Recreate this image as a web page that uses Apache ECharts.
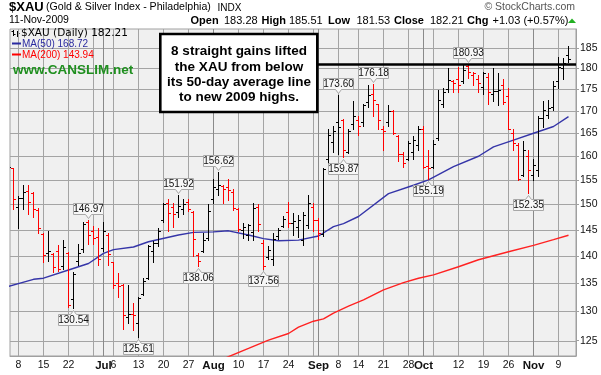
<!DOCTYPE html>
<html>
<head>
<meta charset="utf-8">
<script src="https://cdn.jsdelivr.net/npm/echarts@6.0.0/dist/echarts.min.js"></script>
<style>
html,body{margin:0;padding:0;background:#ffffff;}
#chart{width:601px;height:375px;}
</style>
</head>
<body>
<div id="chart"></div>
<script>
// ---------------- DATA ----------------
const dates = [
'06-04','06-05','06-08','06-09','06-10','06-11','06-12','06-15','06-16','06-17','06-18','06-19','06-22','06-23','06-24','06-25','06-26','06-29','06-30',
'07-01','07-02','07-06','07-07','07-08','07-09','07-10','07-13','07-14','07-15','07-16','07-17','07-20','07-21','07-22','07-23','07-24','07-27','07-28','07-29','07-30','07-31',
'08-03','08-04','08-05','08-06','08-07','08-10','08-11','08-12','08-13','08-14','08-17','08-18','08-19','08-20','08-21','08-24','08-25','08-26','08-27','08-28','08-31',
'09-01','09-02','09-03','09-04','09-08','09-09','09-10','09-11','09-14','09-15','09-16','09-17','09-18','09-21','09-22','09-23','09-24','09-25','09-28','09-29','09-30',
'10-01','10-02','10-05','10-06','10-07','10-08','10-09','10-12','10-13','10-14','10-15','10-16','10-19','10-20','10-21','10-22','10-23','10-26','10-27','10-28','10-29','10-30',
'11-02','11-03','11-04','11-05','11-06','11-09','11-10','11-11'];

const opens = [
155.0,157.4,149.5,151.3,152.8,152.3,148.8,144.2,140.5,140.3,141.0,138.2,140.6,132.2,139.0,141.4,146.5,144.8,143.6,
141.5,144.0,138.8,135.0,134.7,129.0,129.6,128.0,133.0,136.0,141.0,142.5,147.0,150.3,149.5,148.5,149.0,150.4,148.5,140.2,141.0,143.5,
151.0,153.2,153.8,153.5,152.5,149.0,145.0,144.0,144.5,149.5,142.5,139.8,139.5,143.8,145.8,148.5,146.3,145.5,143.0,146.0,149.5,
147.0,144.2,159.5,163.0,167.5,168.0,161.0,167.0,168.0,167.5,172.0,174.0,171.5,166.0,167.5,170.0,164.5,160.5,159.5,161.0,162.5,
166.0,158.0,157.8,164.0,171.5,175.0,177.0,177.5,177.0,180.5,178.5,177.5,175.5,178.0,174.0,174.5,176.0,173.5,165.0,162.5,156.0,160.0,
156.0,157.0,168.5,169.0,171.0,177.0,180.0,183.28];

const highs = [
158.3,157.6,151.7,154.0,154.0,152.6,149.2,144.4,144.7,140.5,142.0,143.0,140.8,137.1,142.3,146.6,146.97,145.8,145.3,
146.6,144.3,138.9,136.8,134.9,134.6,131.4,132.6,135.9,142.0,142.8,145.4,150.3,151.1,150.2,151.92,151.0,151.1,148.7,140.5,144.3,150.0,
155.3,156.62,154.0,155.3,153.2,149.3,146.3,146.1,150.2,150.0,143.0,141.8,144.3,145.4,147.7,150.5,148.3,147.9,148.4,152.0,150.2,
147.3,157.5,166.0,166.6,173.60,168.2,166.0,172.3,168.8,171.6,175.9,176.18,171.6,166.5,171.3,170.2,164.6,161.0,163.3,164.5,166.6,
166.6,161.3,163.5,174.8,175.2,180.1,177.2,180.3,180.7,180.93,179.2,178.3,179.2,178.8,180.1,178.8,177.5,175.2,166.0,162.9,163.3,161.3,
159.5,168.8,172.3,172.5,176.9,182.8,182.4,185.51];

const lows = [
154.2,149.0,145.3,149.0,148.0,147.5,144.3,138.9,139.0,137.1,137.3,137.6,130.8,130.54,138.3,140.8,142.3,142.3,138.3,
141.0,138.3,134.1,132.6,127.0,128.0,126.8,125.61,132.9,135.7,138.9,141.8,146.6,144.7,145.6,147.6,148.0,148.6,140.0,138.06,140.8,143.0,
150.2,152.0,150.3,150.9,148.9,144.7,143.5,143.0,143.0,144.7,137.56,139.5,138.3,143.3,145.5,145.6,144.0,143.6,142.0,145.3,144.7,
143.3,143.8,158.6,161.0,160.4,159.87,160.7,166.0,164.7,166.6,170.9,168.8,166.0,161.3,166.6,164.9,159.0,157.8,159.2,159.5,161.3,
157.4,155.19,157.4,163.5,170.8,174.3,174.3,174.3,176.4,177.6,175.9,174.3,173.9,171.6,172.3,171.3,171.6,165.9,161.3,155.0,155.9,152.35,
155.0,155.9,166.3,168.4,170.3,175.2,177.5,181.53];

const closes = [
157.8,151.0,151.3,152.5,150.4,149.1,145.3,140.1,140.9,138.0,137.6,141.7,131.1,136.6,140.5,146.1,143.9,143.5,139.5,
144.7,140.3,134.7,134.4,129.3,129.6,129.4,132.3,135.4,141.8,142.5,144.7,150.0,148.3,148.0,149.7,150.0,149.0,143.3,139.0,143.1,148.7,
153.6,154.0,153.2,152.9,149.3,145.2,145.6,145.9,149.2,146.1,138.2,141.1,143.2,145.0,147.2,146.4,146.8,147.0,147.9,150.3,147.0,
144.3,157.2,164.7,165.5,166.3,161.3,165.6,168.9,166.6,171.3,173.6,172.5,168.0,165.5,170.0,165.1,160.4,158.6,162.8,163.5,165.9,
157.8,157.4,162.7,172.5,174.3,177.2,176.4,176.0,179.6,179.2,178.8,176.4,178.8,174.3,174.6,174.9,172.0,166.0,162.9,155.3,161.3,157.1,
158.2,168.4,170.3,170.7,175.8,180.3,181.18,182.21];

const ma50Dates  = ['06-04','06-11','06-15','06-22','06-26','07-01','07-06','07-10','07-15','07-23','07-28','08-03','08-06','08-12','08-17','08-20','08-26','09-01','09-04','09-09','09-14','09-22','09-29','10-02','10-09','10-16','10-21','10-27','11-02','11-06','11-11'];
const ma50Values = [134.4,135.7,135.9,137.4,138.6,140.5,141.2,141.7,142.7,144.0,144.5,144.6,144.8,144.0,143.3,142.9,143.0,143.8,145.6,146.2,147.6,152.2,153.9,155.0,157.8,160.0,162.0,163.5,165.0,166.5,168.72];

const ma200Dates  = ['08-04','08-06','08-12','08-18','08-24','08-26','08-31','09-02','09-04','09-10','09-15','09-21','09-25','09-30','10-05','10-12','10-16','10-26','11-02','11-06','11-11'];
const ma200Values = [121.6,122.35,123.7,125.1,126.2,127.3,128.3,128.7,129.7,130.9,132.0,133.8,135.1,135.9,136.5,138.0,139.3,140.8,142.0,143.1,143.94];

const yTicks = [125,130,135,140,145,150,155,160,165,170,175,180,185];
const xLabelDates = ['06-08','06-15','06-22','07-01','07-06','07-13','07-20','07-27','08-03','08-10','08-17','08-24','09-01','09-08','09-14','09-21','09-28','10-01','10-12','10-19','10-26','11-02','11-09'];
const xLabelTexts = ['8','15','22','Jul','6','13','20','27','Aug','10','17','24','Sep','8','14','21','28','Oct','12','19','26','Nov','9'];
const weekDates  = ['06-08','06-15','06-22','06-29','07-06','07-13','07-20','07-27','08-03','08-10','08-17','08-24','08-31','09-08','09-14','09-21','09-28','10-05','10-12','10-19','10-26','11-02','11-09'];
const monthDates = ['07-01','08-03','09-01','10-01','11-02'];

const calloutDates  = ['06-26','06-23','07-13','07-23','07-29','08-04','08-17','09-08','09-09','09-17','10-02','10-14','10-30'];
const calloutValues = [146.97,130.54,125.61,151.92,138.06,156.62,137.56,173.60,159.87,176.18,155.19,180.93,152.35];
const calloutKinds  = ['high','low','low','high','low','high','low','high','low','high','low','high','low'];

const resistanceLevel = 180.93;
const annotationLines = ['8 straight gains lifted','the XAU from below','its 50-day average line','to new 2009 highs.'];
const ma50Label = 168.72, ma200Label = 143.94;

// ---------------- BUILD ----------------
const L = Math.log;
const idx = d => dates.indexOf(d);
const kMin = 0.3, kMax = 113.5;
const yMin = L(122.46), yMax = L(189.71);

const ohlcData = dates.map((d, k) => [k, L(opens[k]), L(highs[k]), L(lows[k]), L(closes[k]),
  (k > 0 && closes[k] < closes[k - 1]) ? 1 : 0]);
const ma50Data = ma50Dates.map((d, j) => [idx(d), L(ma50Values[j])]);
const ma200Data = ma200Dates.map((d, j) => [idx(d), L(ma200Values[j])]);
const calloutData = calloutDates.map((d, j) => [idx(d), L(calloutValues[j]), calloutKinds[j] === 'high' ? 1 : 0]);

const monthIdx = monthDates.map(idx);
const weekIdx = weekDates.map(idx).filter(k => monthIdx.indexOf(k) < 0);
const yTickLn = yTicks.map(L);

const xLabelIdx = xLabelDates.map(idx);
const FONT = '"Liberation Sans", Arial, sans-serif';

const lastC = closes[closes.length - 1], prevC = closes[closes.length - 2];
const chg = lastC - prevC;
const chgPct = chg / prevC * 100;
const nO = opens[opens.length - 1], nH = highs[highs.length - 1], nL = lows[lows.length - 1];

function txt(x, y, text, font, fill, align) {
  return { type: 'text', x: x, y: y, z: 100, silent: true,
    style: { text: text, font: font, fill: fill || '#000', align: align || 'left', verticalAlign: 'middle' } };
}

const graphics = [
  txt(9, 7, '$XAU', 'bold 13px ' + FONT, '#000'),
  txt(46, 7.5, '(Gold & Silver Index - Philadelphia)', '10.6px ' + FONT, '#000'),
  txt(217.5, 8, 'INDX', '10px ' + FONT, '#000'),
  txt(575, 7, '\u00a9 StockCharts.com', '10.5px ' + FONT, '#555', 'right'),
  txt(9, 20.5, '11-Nov-2009', '10.5px ' + FONT, '#000'),
  txt(190.5, 20.5, 'Open', 'bold 11px ' + FONT),
  txt(224, 20.5, nO.toFixed(2), '11px ' + FONT),
  txt(261.5, 20.5, 'High', 'bold 11px ' + FONT),
  txt(289, 20.5, nH.toFixed(2), '11px ' + FONT),
  txt(328, 20.5, 'Low', 'bold 11px ' + FONT),
  txt(356.5, 20.5, nL.toFixed(2), '11px ' + FONT),
  txt(394, 20.5, 'Close', 'bold 11px ' + FONT),
  txt(430, 20.5, lastC.toFixed(2), '11px ' + FONT),
  txt(467, 20.5, 'Chg', 'bold 11px ' + FONT),
  txt(492.5, 20.5, (chg >= 0 ? '+' : '') + chg.toFixed(2) + ' (' + (chgPct >= 0 ? '+' : '') + chgPct.toFixed(2) + '%)', '11px ' + FONT),
  { type: 'polygon', z: 100, silent: true, shape: { points: [[568, 23], [576, 23], [572, 18.5]] }, style: { fill: '#22b022' } },
  // legend inside plot
  { type: 'group', z: 100, silent: true, children: [
    { type: 'line', shape: { x1: 13.5, y1: 30, x2: 13.5, y2: 36 }, style: { stroke: '#000', lineWidth: 1 } },
    { type: 'line', shape: { x1: 11.5, y1: 31.5, x2: 13.5, y2: 31.5 }, style: { stroke: '#000', lineWidth: 1 } },
    { type: 'line', shape: { x1: 13.5, y1: 34.5, x2: 15.5, y2: 34.5 }, style: { stroke: '#000', lineWidth: 1 } },
    { type: 'line', shape: { x1: 17.5, y1: 31, x2: 17.5, y2: 37 }, style: { stroke: '#000', lineWidth: 1 } },
    { type: 'line', shape: { x1: 17.5, y1: 33.5, x2: 19.5, y2: 33.5 }, style: { stroke: '#000', lineWidth: 1 } }
  ]},
  txt(21, 33.5, '$XAU (Daily) ' + lastC.toFixed(2), '10.5px "DejaVu Sans", Verdana, sans-serif', '#000'),
  { type: 'line', z: 100, silent: true, shape: { x1: 12, y1: 43.5, x2: 21, y2: 43.5 }, style: { stroke: '#2a2aa0', lineWidth: 2 } },
  txt(22, 44, 'MA(50) ' + ma50Label.toFixed(2), '10px ' + FONT, '#2a2aa0'),
  { type: 'line', z: 100, silent: true, shape: { x1: 12, y1: 54.5, x2: 21, y2: 54.5 }, style: { stroke: '#ff0000', lineWidth: 2 } },
  txt(22, 55, 'MA(200) ' + ma200Label.toFixed(2), '10px ' + FONT, '#ff0000'),
  txt(13, 70.5, 'www.CANSLIM.net', 'bold 13.5px ' + FONT, '#1f8f1f'),
  // annotation box
  { type: 'rect', z: 100, silent: true, shape: { x: 160.3, y: 34, width: 157, height: 78 }, style: { fill: '#ffffff', stroke: '#000', lineWidth: 2.6 } }
];
annotationLines.forEach((t, j) => graphics.push(txt(239, 51.5 + j * 15.3, t, 'bold 13.5px ' + FONT, '#000', 'center')));

// One custom series renders the whole background grid as a single element group
function renderGridAll(params, api) {
  if (params.dataIndex !== 0) return null;
  const cs = params.coordSys;
  const kids = [];
  weekIdx.forEach(k => {
    const x = api.coord([k, yMin])[0];
    kids.push({ type: 'rect', shape: { x: x - 0.5, y: cs.y, width: 1, height: cs.height }, style: { fill: '#a4a4a4' } });
  });
  yTickLn.forEach(v => {
    const y = Math.round(api.coord([kMin, v])[1]);
    kids.push({ type: 'rect', shape: { x: cs.x, y: y, width: cs.width, height: 1 }, style: { fill: '#a4a4a4' } });
  });
  monthIdx.forEach(k => {
    const x = api.coord([k, yMin])[0];
    kids.push({ type: 'rect', shape: { x: x - 0.5, y: cs.y, width: 1, height: cs.height }, style: { fill: '#8a8a8a' } });
  });
  return { type: 'group', children: kids };
}

function renderOHLC(params, api) {
  const k = api.value(0);
  const o = api.coord([k, api.value(1)]);
  const h = api.coord([k, api.value(2)]);
  const l = api.coord([k, api.value(3)]);
  const c = api.coord([k, api.value(4)]);
  const x = o[0];
  const col = api.value(5) ? '#ff0000' : '#000000';
  const oy = Math.round(o[1]) + 0.5, cy = Math.round(c[1]) + 0.5;
  return { type: 'group', children: [
    { type: 'line', shape: { x1: x, y1: Math.round(h[1]), x2: x, y2: Math.round(l[1]) + 1 }, style: { stroke: col, lineWidth: 1 } },
    { type: 'line', shape: { x1: x - 2.5, y1: oy, x2: x, y2: oy }, style: { stroke: col, lineWidth: 1 } },
    { type: 'line', shape: { x1: x, y1: cy, x2: x + 2.5, y2: cy }, style: { stroke: col, lineWidth: 1 } }
  ]};
}

function renderCallout(params, api) {
  const p = api.coord([api.value(0), api.value(1)]);
  const isHigh = api.value(2) === 1;
  const text = calloutValues[params.dataIndex].toFixed(2);
  const cx = p[0];
  const w = 30, h = 11, gap = 6;
  let top, bottom, pts;
  if (isHigh) {
    bottom = Math.round(p[1]) - gap + 0.5; top = bottom - h;
    pts = [[cx - w / 2, top], [cx + w / 2, top], [cx + w / 2, bottom], [cx + 3, bottom], [cx, bottom + 4], [cx - 3, bottom], [cx - w / 2, bottom]];
  } else {
    top = Math.round(p[1]) + gap + 0.5; bottom = top + h;
    pts = [[cx - w / 2, top], [cx - 3, top], [cx, top - 4], [cx + 3, top], [cx + w / 2, top], [cx + w / 2, bottom], [cx - w / 2, bottom]];
  }
  return { type: 'group', children: [
    { type: 'polygon', shape: { points: pts }, style: { fill: '#f7f7f7', stroke: '#a8a8a8', lineWidth: 1 } },
    { type: 'text', x: cx, y: (top + bottom) / 2 + 0.5, style: { text: text, fill: '#111', font: '10px "Liberation Sans Narrow", "Arial Narrow", ' + FONT, align: 'center', verticalAlign: 'middle' } }
  ]};
}

const chart = echarts.init(document.getElementById('chart'), null, { renderer: 'canvas' });
chart.setOption({
  animation: false,
  backgroundColor: '#ffffff',
  grid: { left: 10, right: 25, top: 29, bottom: 19, show: true, backgroundColor: '#f0f0f0', borderColor: '#a0a0a0', borderWidth: 1 },
  xAxis: {
    type: 'value', min: kMin, max: kMax,
    axisLine: { show: true, onZero: false, lineStyle: { color: '#a0a0a0' } },
    axisTick: { show: false },
    splitLine: { show: false },
    axisLabel: {
      customValues: xLabelIdx, margin: 4, color: '#111', fontFamily: FONT, fontSize: 10.5,
      formatter: v => { const j = xLabelIdx.indexOf(Math.round(v)); const t = j >= 0 ? xLabelTexts[j] : ''; return /[A-Za-z]/.test(t) ? '{m|' + t + '}' : t; },
      rich: { m: { fontWeight: 'bold', fontSize: 11.5, fontFamily: FONT, color: '#111' } }
    }
  },
  yAxis: {
    type: 'value', position: 'right', min: yMin, max: yMax, scale: true,
    axisLine: { show: true, lineStyle: { color: '#a0a0a0' } },
    axisTick: { show: true, customValues: yTickLn, length: 3, lineStyle: { color: '#a0a0a0' } },
    splitLine: { show: false },
    axisLabel: { customValues: yTickLn, margin: 4, color: '#111', fontFamily: FONT, fontSize: 10.5, formatter: v => String(Math.round(Math.exp(v))) }
  },
  graphic: graphics,
  series: [
    { type: 'custom', name: 'grid', data: [[kMin, yMin]], z: 1, silent: true, clip: false,
      encode: { x: 0, y: 1 }, renderItem: renderGridAll },
    { type: 'line', name: 'MA200', data: ma200Data, z: 2, showSymbol: false, symbol: 'none', silent: true, clip: true,
      lineStyle: { color: '#ff2222', width: 1.4 } },
    { type: 'line', name: 'MA50', data: ma50Data, z: 2, showSymbol: false, symbol: 'none', silent: true, clip: true,
      lineStyle: { color: '#3535a8', width: 1.4 } },
    { type: 'custom', name: 'XAU', data: ohlcData, z: 3, clip: true, silent: true,
      encode: { x: 0, y: [1, 2, 3, 4] }, renderItem: renderOHLC },
    { type: 'line', name: 'resistance', data: [], z: 4, silent: true, symbol: 'none',
      markLine: { silent: true, symbol: ['none', 'none'], label: { show: false }, animation: false,
        lineStyle: { color: '#000', width: 2.6, type: 'solid' },
        data: [[{ coord: [61.9, L(resistanceLevel)] }, { coord: [kMax, L(resistanceLevel)] }]] } },
    { type: 'custom', name: 'callouts', data: calloutData, z: 5, silent: true, clip: false,
      encode: { x: 0, y: 1 }, renderItem: renderCallout }
  ]
});
</script>
</body>
</html>
